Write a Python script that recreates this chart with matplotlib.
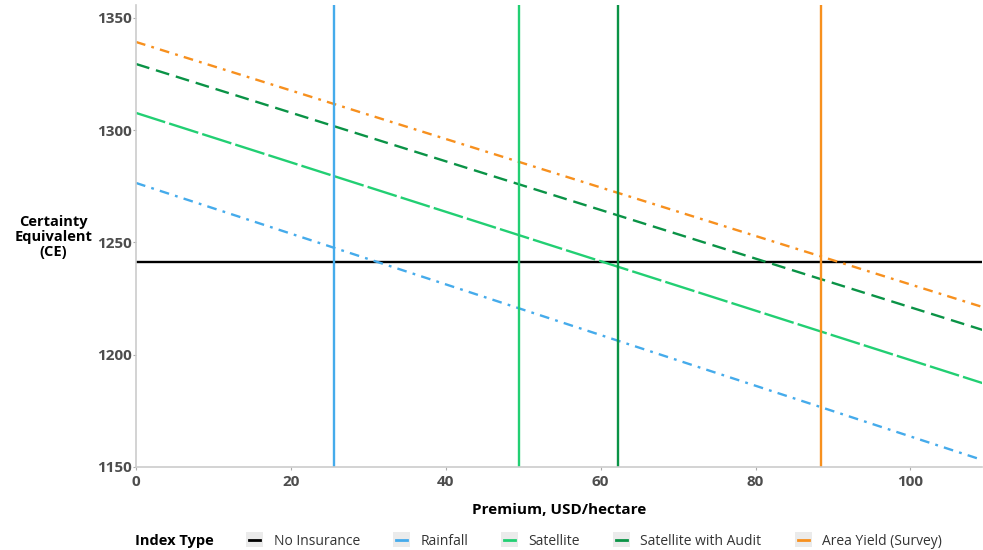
import matplotlib
matplotlib.use("Agg")
import matplotlib.pyplot as plt
from matplotlib.lines import Line2D
from matplotlib.patches import Rectangle
from matplotlib.legend_handler import HandlerLine2D

# data
series = ["No Insurance", "Rainfall", "Satellite", "Satellite with Audit", "Area Yield (Survey)"]
colors = ["#000000", "#45ABEB", "#22CF73", "#0A9346", "#F7901E"]
premium = [0, 110]
ce_no_insurance = [1241.3, 1241.3]
ce_rainfall = [1276.5, 1152.3]
ce_satellite = [1307.7, 1186.6]
ce_audit = [1329.5, 1210.3]
ce_area_yield = [1339.3, 1220.5]
breakeven = [None, 25.5, 49.4, 62.2, 88.4]
yticks = [1150, 1200, 1250, 1300, 1350]
xticks = [0, 20, 40, 60, 80, 100]

plt.rcParams["font.family"] = ["Open Sans", "DejaVu Sans"]
plt.rcParams["lines.scale_dashes"] = False

fig = plt.figure(figsize=(9.83, 5.5), dpi=100)
ax = fig.add_axes([0.1384, 0.151, 0.861, 0.84])

dashes = [None, (7, 4.5, 2, 4.5), (22, 3), (10, 5), (7, 4.5, 2, 4.5)]
values = [ce_no_insurance, ce_rainfall, ce_satellite, ce_audit, ce_area_yield]
for name, col, ys, d in zip(series, colors, values, dashes):
    ln, = ax.plot(premium, ys, color=col, lw=1.7, label=name)
    if d is not None:
        ln.set_dashes(d)

for col, xv in zip(colors, breakeven):
    if xv is not None:
        ax.axvline(xv, color=col, lw=1.7)

ax.set_xlim(0, 109.3)
ax.set_ylim(1150, 1355.8)
ax.set_xticks(xticks)
ax.set_yticks(yticks)
for lab in ax.get_xticklabels() + ax.get_yticklabels():
    lab.set_fontweight("bold")
    lab.set_color("#4d4d4d")
    lab.set_fontsize(11)
ax.tick_params(length=2, color="#aaaaaa", pad=1)
ax.tick_params(axis="x", pad=4)
for s in ["top", "right"]:
    ax.spines[s].set_visible(False)
for s in ["left", "bottom"]:
    ax.spines[s].set_color("#cccccc")
    ax.spines[s].set_linewidth(1.2)

ax.set_xlabel("Premium, USD/hectare", fontsize=11, fontweight="bold", labelpad=10)
fig.text(0.054, 0.569, "Certainty\nEquivalent\n(CE)", ha="center", va="center",
         fontsize=10.5, fontweight="bold", linespacing=1.1)


class KeyHandler(HandlerLine2D):
    def create_artists(self, legend, orig_handle, xdescent, ydescent, width, height, fontsize, trans):
        bg = Rectangle((-xdescent, -ydescent - 2), width, height + 4, facecolor="#ebebeb",
                       edgecolor="none", transform=trans)
        ln = Line2D([-xdescent + 2, -xdescent + width - 2], [height / 2 - ydescent] * 2,
                    color=orig_handle.get_color(), lw=2, transform=trans)
        return [bg, ln]


handles = [Line2D([0], [0], color=c) for c in colors]
leg = fig.legend(handles, series, loc="center left", bbox_to_anchor=(0.238, 0.016), ncol=5,
                 frameon=False, fontsize=10, handlelength=1.2, handletextpad=0.75,
                 columnspacing=2.4, handler_map={Line2D: KeyHandler()})
for t in leg.get_texts():
    t.set_color("#333333")
fig.text(0.137, 0.016, "Index Type", ha="left", va="center", fontsize=10.5, fontweight="bold")

fig.savefig("out.png", dpi=100)
